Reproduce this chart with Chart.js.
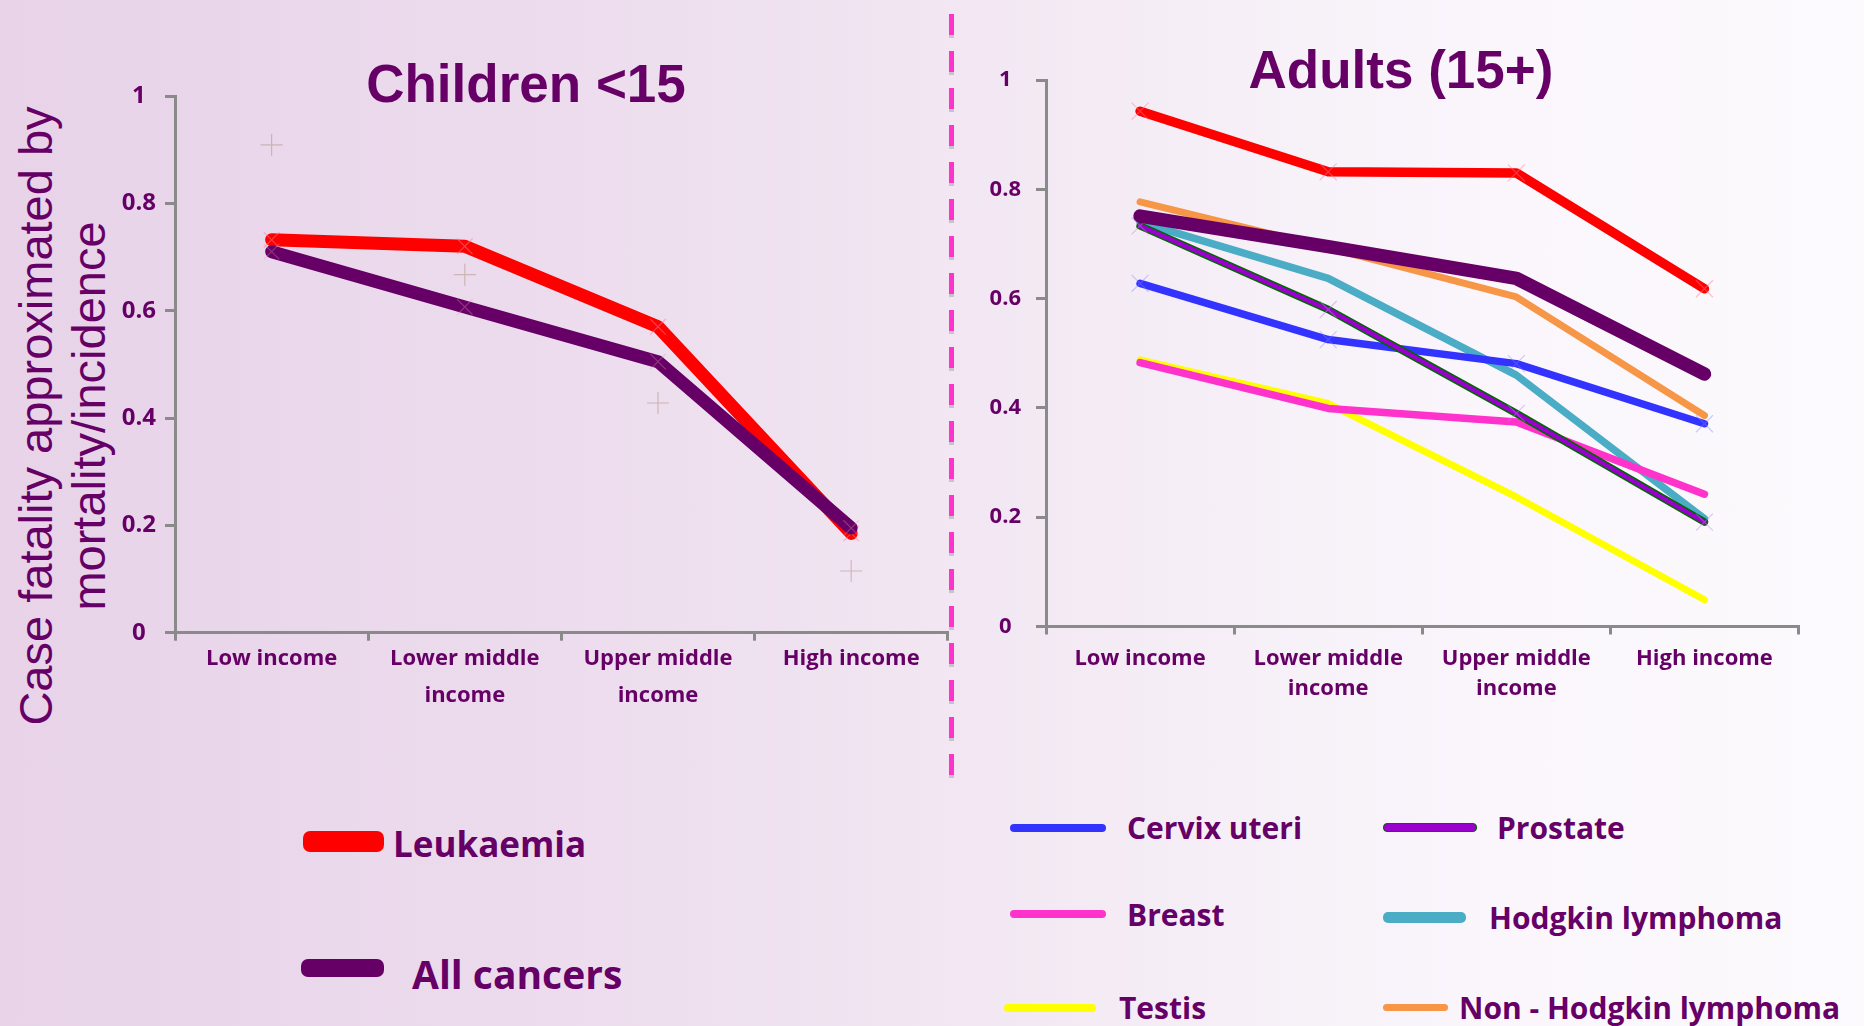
<!DOCTYPE html>
<html>
<head>
<meta charset="utf-8">
<title>Case fatality by country income group</title>
<script src="https://cdn.jsdelivr.net/npm/chart.js@4.4.1/dist/chart.umd.min.js"></script>
<style>
  html, body { margin: 0; padding: 0; }
  body {
    width: 1864px; height: 1026px; overflow: hidden; position: relative;
    background: linear-gradient(to right, #E8D3E9 0%, #ECDBED 28%, #F1E6F2 50%, #F6EFF7 66%, #FAF6FC 80%, #FCFAFD 100%);
    font-family: 'Open Sans', sans-serif; color: #660066;
  }
  .abs { position: absolute; }
  .panel-title {
    position: absolute; font-family: 'Liberation Sans', Arial, sans-serif; font-weight: bold;
    font-size: 53px; line-height: 53px; white-space: nowrap; transform: translateX(-50%); color: #660066;
  }
  .y-title {
    position: absolute; left: 62px; top: 416px; width: 760px; text-align: center;
    font-family: 'Liberation Sans', Arial, sans-serif; font-size: 47px; line-height: 53px;
    white-space: nowrap; color: #660066; transform: translate(-50%, -50%) rotate(-90deg);
  }
  .divider {
    position: absolute; left: 949px; top: 14px; width: 5px; height: 768px;
    background: repeating-linear-gradient(to bottom, #FF33CC 0px, #FF33CC 21px, #C9C2C9 21px, #C9C2C9 24px, transparent 24px, transparent 37px);
  }
  .swatch { position: absolute; box-sizing: border-box; }
  .key { position: absolute; font-family: 'Open Sans', sans-serif; font-weight: bold; line-height: 1; white-space: nowrap; color: #660066; }
</style>
</head>
<body>

<div class="panel-title" style="left:526px; top:57px;">Children &lt;15</div>
<div class="panel-title" style="left:1401px; top:43px;">Adults (15+)</div>
<div class="y-title">Case fatality approximated by<br>mortality/incidence</div>
<div class="divider"></div>

<div class="abs" style="left:0; top:0; width:960px; height:760px;"><canvas id="childChart" width="960" height="760"></canvas></div>
<div class="abs" style="left:960px; top:0; width:860px; height:760px;"><canvas id="adultChart" width="860" height="760"></canvas></div>

<!-- children legend -->
<div class="swatch" style="left:303px; top:831px; width:81px; height:21px; border-radius:7px; background:#FF0000;"></div>
<div class="key" style="left:393px; top:826px; font-size:35px;">Leukaemia</div>
<div class="swatch" style="left:301px; top:959px; width:83px; height:18px; border-radius:7px; background:#660066;"></div>
<div class="key" style="left:412px; top:954px; font-size:39px;">All cancers</div>

<!-- adults legend -->
<div class="swatch" style="left:1010px; top:824px; width:96px; height:8px; border-radius:4px; background:#3333FF;"></div>
<div class="key" style="left:1127px; top:813px; font-size:30px;">Cervix uteri</div>
<div class="swatch" style="left:1383px; top:823px; width:94px; height:9px; border-radius:4px; background:#9900CC; border:1.5px solid #006600;"></div>
<div class="key" style="left:1497px; top:813px; font-size:30px;">Prostate</div>
<div class="swatch" style="left:1010px; top:910px; width:96px; height:8px; border-radius:4px; background:#FF33CC;"></div>
<div class="key" style="left:1127px; top:900px; font-size:30px;">Breast</div>
<div class="swatch" style="left:1383px; top:912px; width:83px; height:11px; border-radius:5px; background:#4BACC6;"></div>
<div class="key" style="left:1489px; top:903px; font-size:30px;">Hodgkin lymphoma</div>
<div class="swatch" style="left:1004px; top:1004px; width:92px; height:8px; border-radius:4px; background:#FFFF00;"></div>
<div class="key" style="left:1119px; top:993px; font-size:30px;">Testis</div>
<div class="swatch" style="left:1383px; top:1004px; width:65px; height:7px; border-radius:4px; background:#F79646;"></div>
<div class="key" style="left:1459px; top:993px; font-size:30px;">Non - Hodgkin lymphoma</div>

<script>
// Country income groups (x categories) and y-axis tick values
const incomeGroups = [['Low income'], ['Lower middle', 'income'], ['Upper middle', 'income'], ['High income']];
const fractionTicks = [0, 0.2, 0.4, 0.6, 0.8, 1];

// Children under 15: mortality / incidence
const childLeukaemia  = [0.732, 0.720, 0.570, 0.185];
const childAllCancers = [0.710, 0.607, 0.505, 0.195];
const childPlusMarks  = [0.909, 0.667, 0.428, 0.115];

// Adults 15+: mortality / incidence
const adultLeukaemia  = [0.943, 0.832, 0.830, 0.618];
const adultAllCancers = [0.751, 0.695, 0.637, 0.462];
const adultCervix     = [0.628, 0.525, 0.481, 0.371];
const adultBreast     = [0.483, 0.399, 0.374, 0.242];
const adultTestis     = [0.488, 0.408, 0.237, 0.049];
const adultProstate   = [0.733, 0.580, 0.390, 0.191];
const adultHodgkin    = [0.740, 0.637, 0.460, 0.197];
const adultNonHodgkin = [0.777, 0.693, 0.603, 0.386];

const INK = '#660066';
const AXIS = '#8A8A8A';

function lineSet(label, data, color, width, order, extra) {
  return Object.assign({
    label, data, order,
    borderColor: color, backgroundColor: color, borderWidth: width,
    tension: 0, borderCapStyle: 'round', borderJoinStyle: 'round',
    pointRadius: 0, pointHoverRadius: 0
  }, extra || {});
}

function xMarks(color, r) {
  return { pointStyle: 'crossRot', pointRadius: r, pointHoverRadius: r,
           pointBorderColor: color, pointBackgroundColor: 'transparent', pointBorderWidth: 1.2 };
}

function axes(o) {
  return {
    x: {
      type: 'category', offset: true,
      grid: { offset: true, drawOnChartArea: false, drawTicks: true, tickLength: 8, color: AXIS, lineWidth: 3 },
      border: { display: true, color: AXIS, width: 3 },
      ticks: { color: INK, font: { family: 'Open Sans', weight: 'bold', size: 22, lineHeight: o.xLine },
               padding: o.xPad, maxRotation: 0, minRotation: 0, autoSkip: false },
      afterFit: s => { s.height = o.xHeight; }
    },
    y: {
      type: 'linear', min: 0, max: 1,
      afterBuildTicks: s => { s.ticks = fractionTicks.map(v => ({ value: v })); },
      grid: { drawOnChartArea: false, drawTicks: true, tickLength: 10, color: AXIS, lineWidth: 3 },
      border: { display: true, color: AXIS, width: 3 },
      ticks: { color: INK, font: { family: 'Open Sans', weight: 'bold', size: o.ySize },
               padding: o.yPad, crossAlign: 'center', callback: v => String(v) },
      afterFit: s => { s.width = o.yWidth; }
    }
  };
}

function baseOptions(padding, scales) {
  return {
    responsive: false, animation: false, devicePixelRatio: 1, events: [],
    layout: { padding },
    plugins: { legend: { display: false }, tooltip: { enabled: false }, title: { display: false } },
    scales
  };
}

let drawn = false;
function draw() {
  if (drawn) return;
  drawn = true;

  new Chart(document.getElementById('childChart'), {
    type: 'line',
    data: {
      labels: incomeGroups,
      datasets: [
        lineSet('All cancers', childAllCancers, '#660066', 13, 0, xMarks('rgba(235,140,175,0.35)', 11)),
        lineSet('Leukaemia', childLeukaemia, '#FF0000', 13, 1, xMarks('rgba(255,120,150,0.5)', 11)),
        lineSet('', childPlusMarks, 'rgba(190,160,150,0.6)', 0, 2, {
          showLine: false, pointStyle: 'cross', pointRadius: 11, pointHoverRadius: 11,
          pointBorderColor: 'rgba(185,155,145,0.6)', pointBorderWidth: 1.2
        })
      ]
    },
    options: baseOptions({ top: 96, left: 0, right: 11, bottom: 0 },
      axes({ xLine: 1.68, xPad: 0, xHeight: 127.3, ySize: 24, yPad: 9, yWidth: 175 }))
  });

  new Chart(document.getElementById('adultChart'), {
    type: 'line',
    data: {
      labels: incomeGroups,
      datasets: [
        lineSet('Leukaemia', adultLeukaemia, '#FF0000', 9.5, 0, xMarks('rgba(255,120,150,0.45)', 12)),
        lineSet('All cancers', adultAllCancers, '#660066', 13.5, 1),
        lineSet('Prostate', adultProstate, '#9900CC', 4.5, 2, xMarks('rgba(190,130,235,0.45)', 12)),
        lineSet('Prostate', adultProstate, '#006600', 7.5, 3),
        lineSet('Cervix uteri', adultCervix, '#3333FF', 7.5, 4, xMarks('rgba(130,130,255,0.4)', 12)),
        lineSet('Breast', adultBreast, '#FF33CC', 7.5, 5),
        lineSet('Hodgkin lymphoma', adultHodgkin, '#4BACC6', 7.5, 6),
        lineSet('Non - Hodgkin lymphoma', adultNonHodgkin, '#F79646', 7, 7),
        lineSet('Testis', adultTestis, '#FFFF00', 7, 8)
      ]
    },
    options: baseOptions({ top: 80, left: 0, right: 21.5, bottom: 0 },
      axes({ xLine: 1.36, xPad: 9, xHeight: 133.5, ySize: 22, yPad: 15, yWidth: 86 }))
  });
}

if (document.fonts && document.fonts.load) {
  Promise.all([
    document.fonts.load('bold 22px "Open Sans"'),
    document.fonts.load('47px "Liberation Sans"'),
    document.fonts.load('bold 53px "Liberation Sans"')
  ]).then(draw, draw);
  setTimeout(draw, 1500);
} else {
  draw();
}
</script>
</body>
</html>
